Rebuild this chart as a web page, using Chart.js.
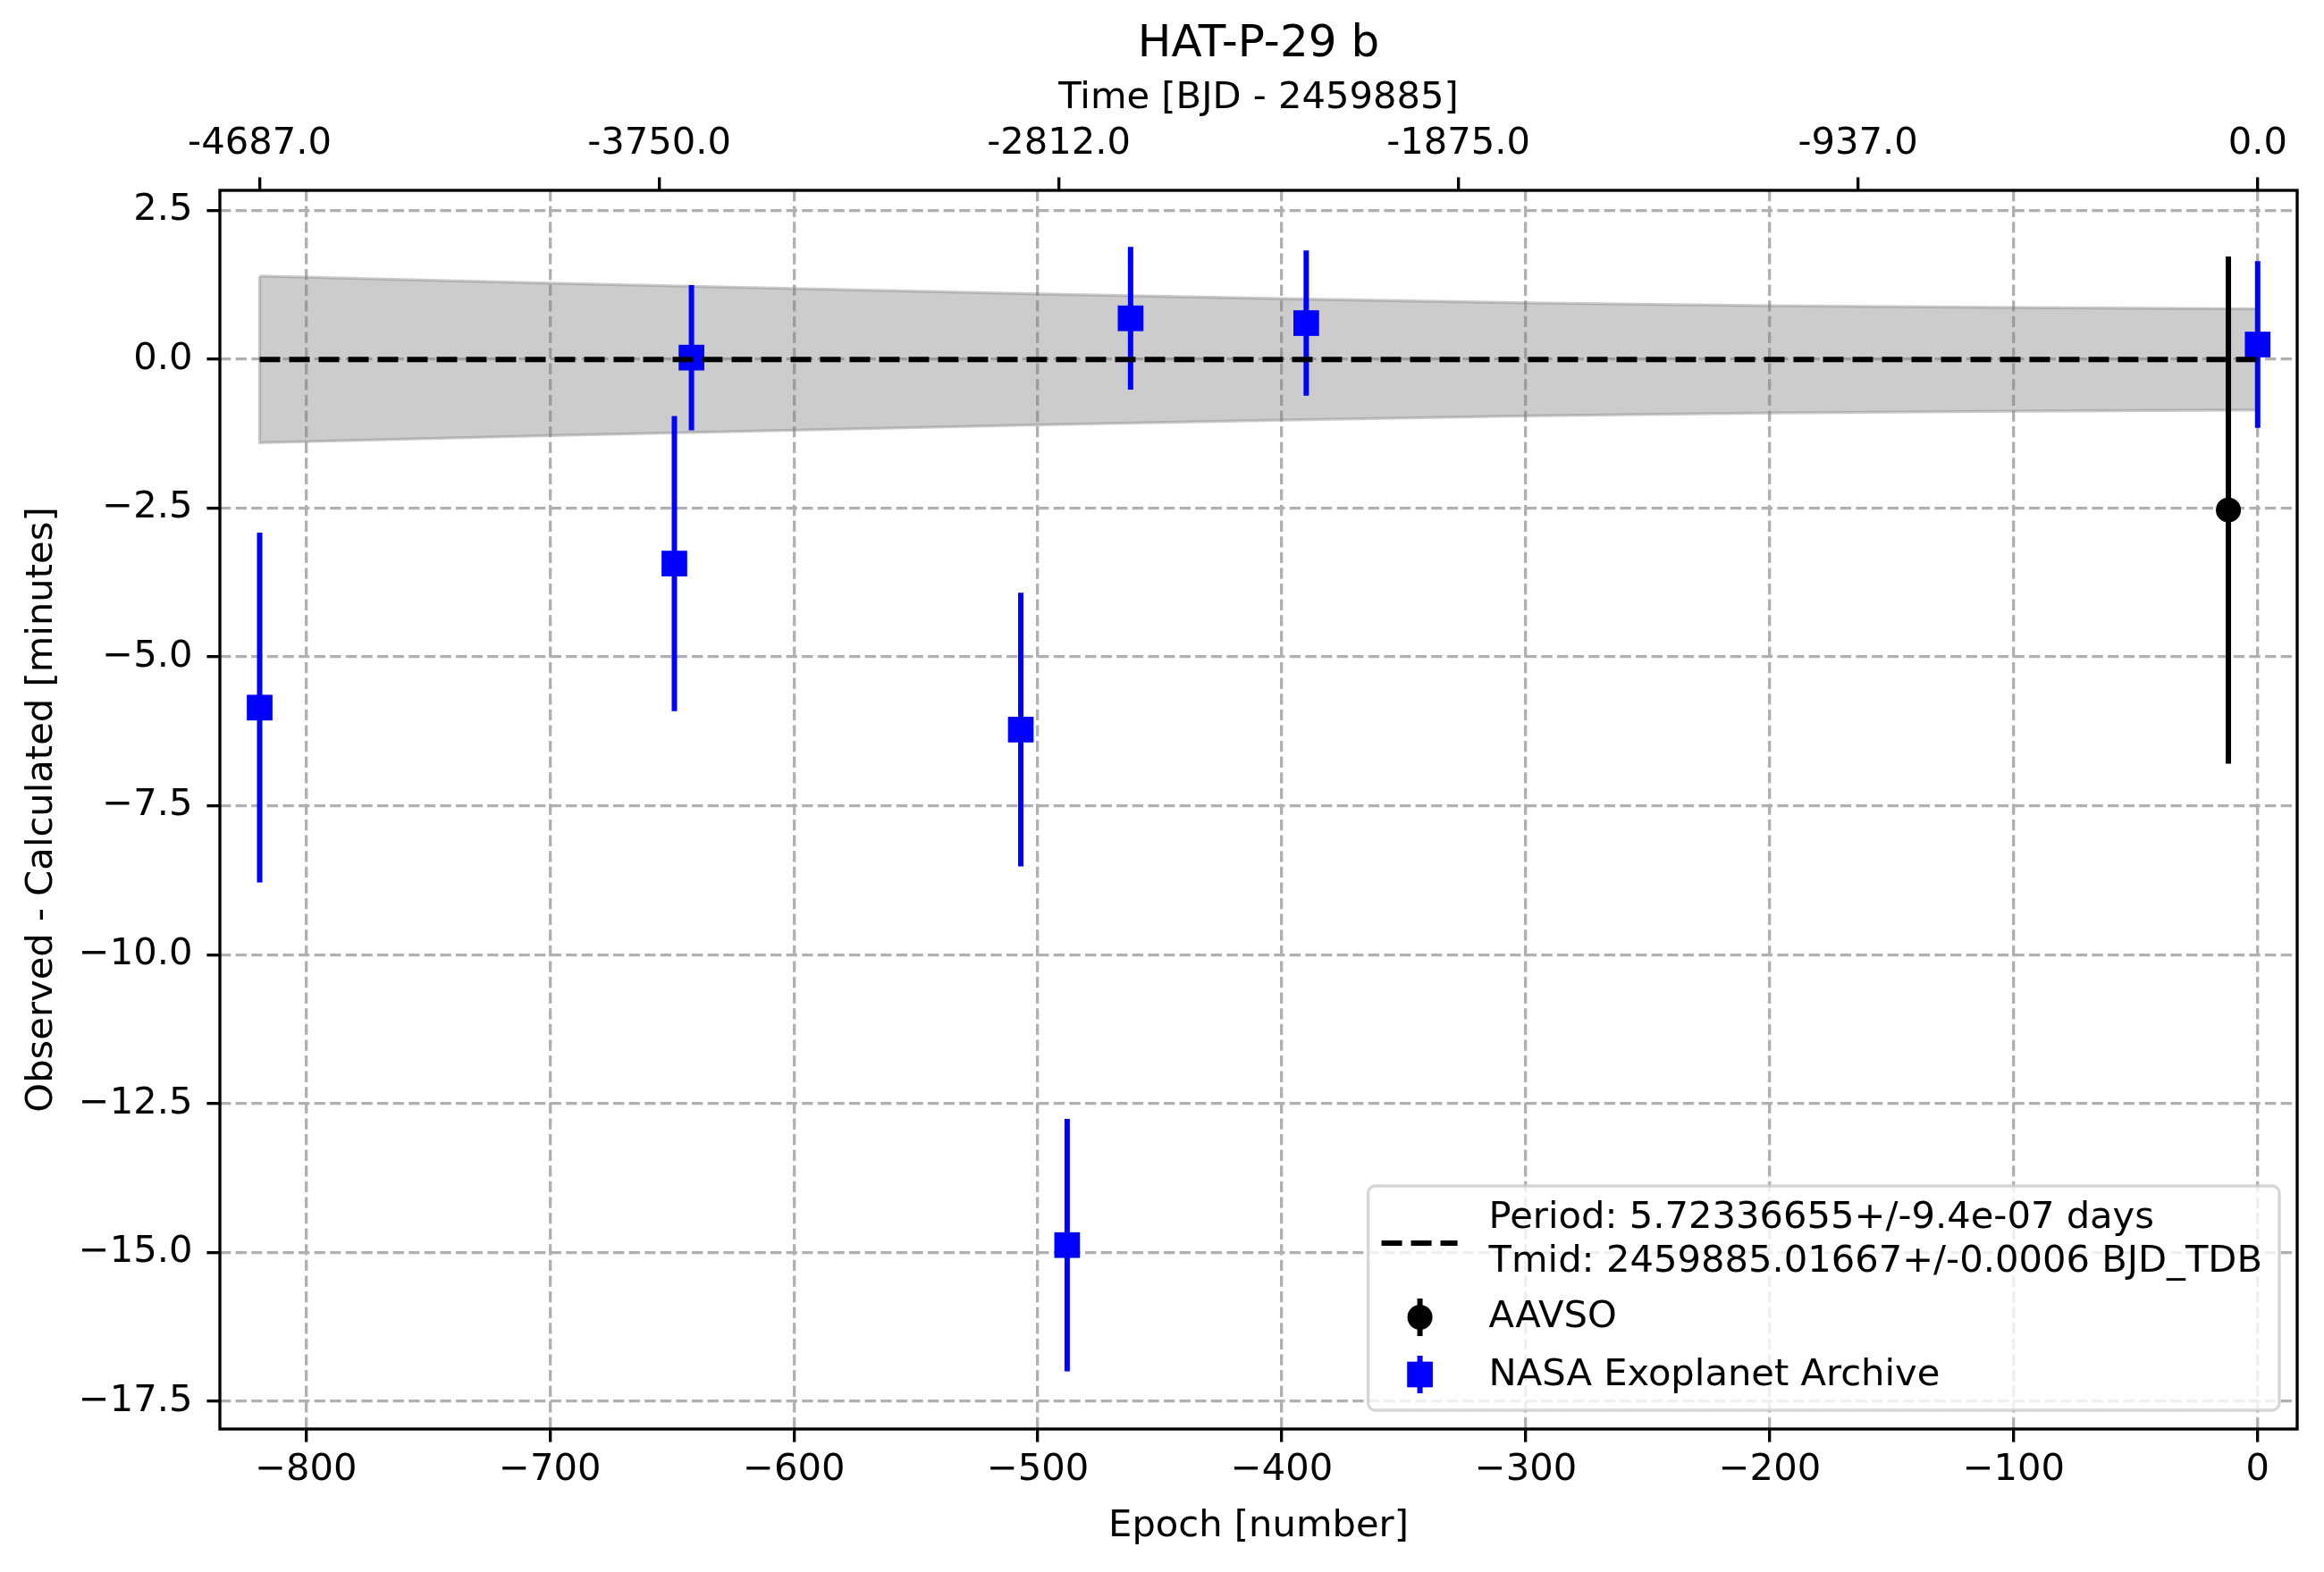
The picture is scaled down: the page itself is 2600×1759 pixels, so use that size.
<!DOCTYPE html>
<html>
<head>
<meta charset="utf-8">
<script src="https://cdn.jsdelivr.net/npm/chart.js@4.4.1/dist/chart.umd.min.js"></script>
<style>
  html, body { margin: 0; padding: 0; background: #fff; }
  #wrap { width: 2600px; height: 1759px; }
</style>
</head>
<body>
<div id="wrap"><canvas id="chart"></canvas></div>
<script>
// NASA Exoplanet Archive transits (epoch, O-C minutes, 1 sigma)
const nasaEpoch = [-819, -649, -642, -507, -488, -462, -390, 0];
const nasaOC    = [-5.85, -3.43, 0.03, -6.22, -14.88, 0.69, 0.61, 0.25];
const nasaErr   = [2.94, 2.48, 1.22, 2.30, 2.12, 1.20, 1.22, 1.40];

// AAVSO transit
const aavsoEpoch = [-12];
const aavsoOC    = [-2.53];
const aavsoErr   = [4.26];

// ephemeris uncertainty band (half width, minutes)
const bandEpoch = [-819, -700, -600, -500, -400, -300, -200, -100, 0];
const bandHalf  = [1.40, 1.28, 1.19, 1.10, 1.02, 0.95, 0.90, 0.87, 0.85];

// linear ephemeris
const fitEpoch = [-819, 0];
const fitOC    = [0, 0];

// axes
const epochTicks = [-800, -700, -600, -500, -400, -300, -200, -100, 0];
const ocTicks = [2.5, 0, -2.5, -5, -7.5, -10, -12.5, -15, -17.5];
const timeTickEpochs = [-819, -655.2, -491.4, -327.6, -163.8, 0];
const timeTickLabels = ['-4687.0', '-3750.0', '-2812.0', '-1875.0', '-937.0', '0.0'];

const legendPeriod = 'Period: 5.72336655+/-9.4e-07 days';
const legendTmid = 'Tmid: 2459885.01667+/-0.0006 BJD_TDB';

const FONT = 'DejaVu Sans';
const FS = 41.67;
const LW = 3.33;

Chart.defaults.font.family = FONT;
Chart.defaults.font.size = FS;
Chart.defaults.color = '#000';

function minus(v, digits) {
    const s = digits === undefined ? String(Math.abs(v)) : Math.abs(v).toFixed(digits);
    return (v < 0 ? '\u2212' : '') + s;
}

function errSegments(ep, oc, err) {
    const pts = [];
    ep.forEach((e, i) => {
        pts.push({x: e, y: oc[i] - err[i]}, {x: e, y: oc[i] + err[i]}, {x: e, y: null});
    });
    return pts;
}

const bandUpper = bandEpoch.map((e, i) => ({x: e, y: bandHalf[i]}));
const bandLower = bandEpoch.map((e, i) => ({x: e, y: -bandHalf[i]}));
const bandOutline = bandUpper.concat(bandLower.slice().reverse(), [bandUpper[0]]);

// black frame on all four sides
const frame = {
    id: 'frame',
    afterDatasetsDraw(chart) {
        const {ctx, chartArea: a} = chart;
        ctx.save();
        ctx.strokeStyle = '#000';
        ctx.lineWidth = LW;
        ctx.strokeRect(a.left, a.top, a.right - a.left, a.bottom - a.top);
        ctx.restore();
    }
};

// matplotlib style legend, lower right
const mplLegend = {
    id: 'mplLegend',
    afterDraw(chart) {
        const {ctx, chartArea: a} = chart;
        ctx.save();
        ctx.font = FS + 'px "' + FONT + '"';
        const textW = Math.max(ctx.measureText(legendPeriod).width, ctx.measureText(legendTmid).width);
        const w = 135 + textW + 19;
        const h = 251;
        const x0 = a.right - 20 - w;
        const y0 = a.bottom - 21 - h;

        ctx.beginPath();
        ctx.roundRect(x0, y0, w, h, 8);
        ctx.fillStyle = 'rgba(255,255,255,0.8)';
        ctx.fill();
        ctx.lineWidth = LW;
        ctx.strokeStyle = 'rgba(204,204,204,0.8)';
        ctx.stroke();

        // fit line handle
        ctx.beginPath();
        ctx.setLineDash([23, 10]);
        ctx.lineWidth = 6;
        ctx.strokeStyle = '#000';
        ctx.moveTo(x0 + 15, y0 + 64);
        ctx.lineTo(x0 + 100, y0 + 64);
        ctx.stroke();
        ctx.setLineDash([]);

        // AAVSO handle
        const mx = x0 + 58;
        let my = y0 + 147;
        ctx.beginPath();
        ctx.moveTo(mx, my - 21);
        ctx.lineTo(mx, my + 21);
        ctx.stroke();
        ctx.beginPath();
        ctx.arc(mx, my, 14, 0, Math.PI * 2);
        ctx.fillStyle = '#000';
        ctx.fill();

        // NASA handle
        my = y0 + 211;
        ctx.beginPath();
        ctx.strokeStyle = '#0000ff';
        ctx.moveTo(mx, my - 21);
        ctx.lineTo(mx, my + 21);
        ctx.stroke();
        ctx.fillStyle = '#0000ff';
        ctx.fillRect(mx - 14.35, my - 14.35, 28.7, 28.7);

        ctx.fillStyle = '#000';
        ctx.textBaseline = 'middle';
        ctx.textAlign = 'left';
        ctx.fillText(legendPeriod, x0 + 135, y0 + 36);
        ctx.fillText(legendTmid, x0 + 135, y0 + 85);
        ctx.fillText('AAVSO', x0 + 135, y0 + 147);
        ctx.fillText('NASA Exoplanet Archive', x0 + 135, y0 + 212);
        ctx.restore();
    }
};

const gridOpts = {color: '#b0b0b0', lineWidth: LW, tickColor: '#000', tickLength: 14.6, tickWidth: LW};

const ctx = document.getElementById('chart').getContext('2d');
new Chart(ctx, {
    type: 'line',
    data: {
        datasets: [
            {
                label: 'band outline',
                data: bandOutline,
                borderColor: 'rgba(128,128,128,0.4)',
                borderWidth: LW,
                pointRadius: 0,
                fill: false,
                order: 9
            },
            {
                label: 'band upper',
                data: bandUpper,
                borderWidth: 0,
                pointRadius: 0,
                backgroundColor: 'rgba(128,128,128,0.4)',
                fill: '+1',
                order: 10
            },
            {
                label: 'band lower',
                data: bandLower,
                borderWidth: 0,
                pointRadius: 0,
                fill: false,
                order: 11
            },
            {
                label: 'AAVSO err',
                data: errSegments(aavsoEpoch, aavsoOC, aavsoErr),
                borderColor: '#000',
                borderWidth: 6,
                pointRadius: 0,
                spanGaps: false,
                order: 6
            },
            {
                label: 'AAVSO',
                data: aavsoEpoch.map((e, i) => ({x: e, y: aavsoOC[i]})),
                showLine: false,
                pointStyle: 'circle',
                pointRadius: 14,
                pointBorderWidth: 0,
                pointBackgroundColor: '#000',
                order: 5
            },
            {
                label: 'NASA err',
                data: errSegments(nasaEpoch, nasaOC, nasaErr),
                borderColor: '#0000ff',
                borderWidth: 6,
                pointRadius: 0,
                spanGaps: false,
                order: 4
            },
            {
                label: 'NASA Exoplanet Archive',
                data: nasaEpoch.map((e, i) => ({x: e, y: nasaOC[i]})),
                showLine: false,
                pointStyle: 'rect',
                pointRadius: 20.3,
                pointBorderWidth: 0,
                pointBackgroundColor: '#0000ff',
                order: 3
            },
            {
                label: 'fit',
                data: fitEpoch.map((e, i) => ({x: e, y: fitOC[i]})),
                borderColor: '#000',
                borderWidth: 6,
                borderDash: [23, 10],
                pointRadius: 0,
                order: 1
            }
        ]
    },
    options: {
        responsive: true,
        maintainAspectRatio: false,
        devicePixelRatio: 1,
        animation: false,
        layout: {padding: {left: 0, right: 30, top: 0, bottom: 0}},
        plugins: {
            legend: {display: false},
            tooltip: {enabled: false},
            title: {
                display: true,
                text: 'HAT-P-29 b',
                fullSize: false,
                color: '#000',
                font: {size: 50, weight: 'normal'},
                padding: {top: 20, bottom: 0}
            }
        },
        scales: {
            x: {
                type: 'linear',
                position: 'bottom',
                min: -835.3,
                max: 16.2,
                afterBuildTicks: s => { s.ticks = epochTicks.map(v => ({value: v})); },
                afterFit: s => { s.height = 160; },
                ticks: {callback: v => minus(v), padding: 7, autoSkip: false, maxRotation: 0},
                grid: gridOpts,
                border: {display: false, dash: [12.3, 5.3]},
                title: {display: true, text: 'Epoch [number]', padding: {top: 0, bottom: 26}}
            },
            x2: {
                type: 'linear',
                position: 'top',
                min: -835.3,
                max: 16.2,
                afterBuildTicks: s => { s.ticks = timeTickEpochs.map(v => ({value: v})); },
                afterFit: s => { s.height = 133; },
                ticks: {
                    callback: v => timeTickLabels[timeTickEpochs.indexOf(v)],
                    padding: 12, autoSkip: false, maxRotation: 0
                },
                grid: Object.assign({}, gridOpts, {drawOnChartArea: false}),
                border: {display: false},
                title: {display: true, text: 'Time [BJD - 2459885]', padding: {top: 5, bottom: 0}}
            },
            y: {
                type: 'linear',
                min: -17.97,
                max: 2.84,
                afterBuildTicks: s => { s.ticks = ocTicks.map(v => ({value: v})); },
                afterFit: s => { s.width = 246; },
                ticks: {callback: v => minus(v, 1), padding: 16, autoSkip: false},
                grid: gridOpts,
                border: {display: false, dash: [12.3, 5.3]},
                title: {display: true, text: 'Observed - Calculated [minutes]', padding: {top: 22, bottom: 0}}
            }
        }
    },
    plugins: [frame, mplLegend]
});
</script>
</body>
</html>
